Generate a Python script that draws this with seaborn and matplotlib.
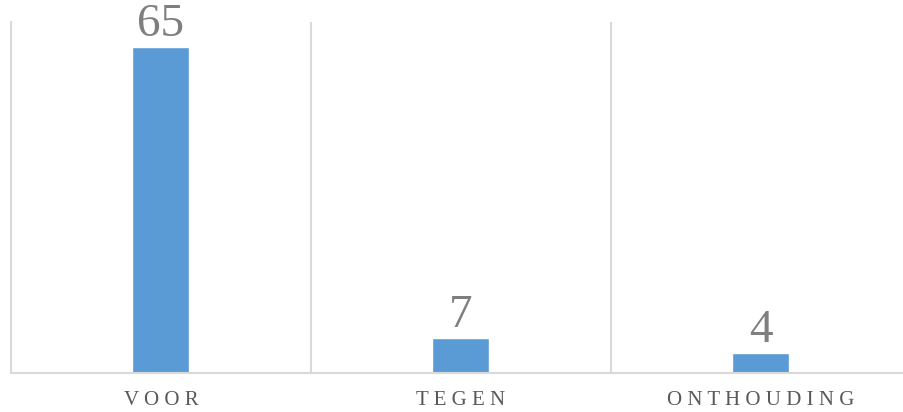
import matplotlib
matplotlib.use("Agg")
import matplotlib.pyplot as plt
import seaborn as sns
import pandas as pd

# data
categories = ["VOOR", "TEGEN", "ONTHOUDING"]
values = [65, 7, 4]
tick_labels = [" ".join(c) for c in categories]

df = pd.DataFrame({"cat": categories, "val": values})

sns.set_style("white")
plt.rcParams["font.family"] = ["Liberation Serif", "DejaVu Serif"]

fig = plt.figure(figsize=(9.04, 4.12), dpi=100)
ax = fig.add_axes([11 / 904, 39 / 412, 900 / 904, 351 / 412])

sns.barplot(data=df, x="cat", y="val", color="#5B9BD5", saturation=1,
            width=0.19, ax=ax)

ax.set_xlim(-0.5, 2.5)
ax.set_ylim(0, 70)

# grid lines between categories
for x in [0.5, 1.5]:
    ax.axvline(x, color="#d9d9d9", lw=1.5, zorder=0)

for s in ["top", "right"]:
    ax.spines[s].set_visible(False)
ax.spines["left"].set_color("#d9d9d9")
ax.spines["left"].set_linewidth(1.5)
ax.spines["bottom"].set_color("#d9d9d9")
ax.spines["bottom"].set_linewidth(1.5)

ax.set_yticks([])
ax.set_xticks(range(len(categories)))
ax.set_xticklabels(tick_labels, fontsize=15, color="#595959")
ax.tick_params(axis="x", length=0, pad=13)
ax.set_xlabel("")
ax.set_ylabel("")

# data labels
for i, v in enumerate(values):
    ax.text(i, v + 0.2, str(v), ha="center", va="bottom",
            fontsize=34, color="#7f7f7f")

fig.savefig("out.png", dpi=100)
